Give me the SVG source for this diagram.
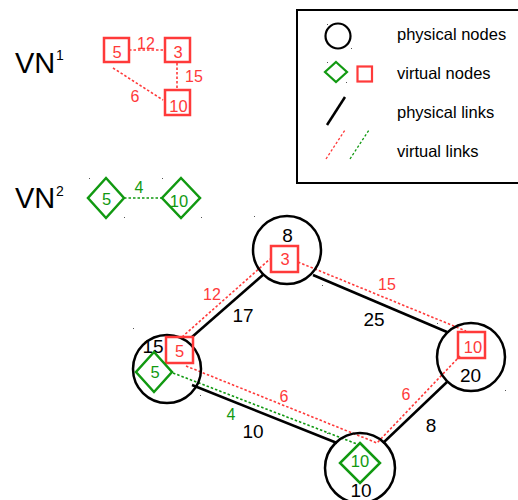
<svg xmlns="http://www.w3.org/2000/svg" width="518" height="500" viewBox="0 0 518 500">
  <style>
    text { font-family: "Liberation Sans", Arial, sans-serif; }
    .pnode { fill: none; stroke: #000; stroke-width: 2.5; }
    .plink { stroke: #000; stroke-width: 2.5; fill: none; }
    .vsq { fill: none; stroke: #ff3a3a; stroke-width: 2.5; }
    .vdia { fill: none; stroke: #119911; stroke-width: 2.5; stroke-linejoin: miter; }
    .vlr { stroke: #ff3a3a; stroke-width: 1.6; stroke-dasharray: 2.5 2; fill: none; }
    .vlg { stroke: #119911; stroke-width: 1.6; stroke-dasharray: 2.5 2; fill: none; }
    .lbl { font-size: 19px; fill: #000; text-anchor: middle; }
    .rl { font-size: 16px; fill: #ff3a3a; text-anchor: middle; }
    .gl { font-size: 16px; fill: #119911; text-anchor: middle; }
    .rn { font-size: 16.5px; fill: #ff3a3a; text-anchor: middle; }
    .gn { font-size: 16.5px; fill: #119911; text-anchor: middle; }
    .leg { font-size: 16.5px; fill: #000; }
    .vn { font-size: 29px; fill: #000; }
    .sup { font-size: 14px; fill: #000; }
    .tick { fill: #555; }
  </style>

  <rect width="518" height="500" fill="#fff"/>

  <!-- virtual network 1 -->
  <g id="vn1">
    <text class="vn" x="15" y="73">VN</text>
    <text class="sup" x="56" y="60">1</text>
    <g class="vn1-links">
      <line class="vlr" x1="129" y1="50" x2="164" y2="50"/>
      <line class="vlr" x1="177" y1="63" x2="177" y2="90"/>
      <line class="vlr" x1="113" y1="68" x2="163" y2="100"/>
      <text class="rl" x="146" y="48.5">12</text>
      <text class="rl" x="194" y="82">15</text>
      <text class="rl" x="135" y="102">6</text>
    </g>
    <g id="vn1-n5"><rect class="vsq" x="104" y="38" width="25" height="24"/><text class="rn" x="117" y="58">5</text></g>
    <g id="vn1-n3"><rect class="vsq" x="165" y="38" width="25" height="24"/><text class="rn" x="178" y="58">3</text></g>
    <g id="vn1-n10"><rect class="vsq" x="165" y="90" width="25" height="25"/><text class="rn" x="178.5" y="112">10</text></g>
  </g>

  <!-- virtual network 2 -->
  <g id="vn2">
    <text class="vn" x="15" y="208">VN</text>
    <text class="sup" x="56" y="196">2</text>
    <line class="vlg" x1="124" y1="198" x2="162" y2="198"/>
    <text class="gl" x="139" y="193">4</text>
    <g id="vn2-n5"><polygon class="vdia" points="106,178 124,198 106,218 88,198"/><text class="gn" x="106.5" y="205">5</text></g>
    <g id="vn2-n10"><polygon class="vdia" points="181,178 200,198 181,218 162,198"/><text class="gn" x="179" y="207">10</text></g>
  </g>

  <!-- legend -->
  <g id="legend">
    <rect x="297" y="10" width="232" height="173" fill="#fff" stroke="#000" stroke-width="2"/>
    <circle cx="338" cy="36" r="12.5" fill="none" stroke="#000" stroke-width="2.2"/>
    <polygon class="vdia" points="336,62 347,72 336,82 325,72" style="stroke-width:2.2"/>
    <rect class="vsq" x="357.5" y="66.5" width="14.5" height="15" style="stroke-width:2.2"/>
    <line class="plink" x1="327" y1="125" x2="345" y2="97"/>
    <line class="vlr" x1="326" y1="159" x2="345" y2="130" style="stroke-width:1.3"/>
    <line class="vlg" x1="350" y1="159" x2="369" y2="130" style="stroke-width:1.3"/>
    <text class="leg" x="397" y="40">physical nodes</text>
    <text class="leg" x="397" y="79">virtual nodes</text>
    <text class="leg" x="397" y="118">physical links</text>
    <text class="leg" x="397" y="157">virtual links</text>
  </g>

  <!-- physical and virtual links -->
  <g id="links">
    <line class="plink" x1="192" y1="337" x2="264" y2="274"/>
    <line class="plink" x1="313" y1="275" x2="447" y2="332"/>
    <line class="plink" x1="192" y1="385" x2="337" y2="443"/>
    <line class="plink" x1="447" y1="382" x2="383" y2="443"/>
    <text class="lbl" x="243" y="322">17</text>
    <text class="lbl" x="374" y="326">25</text>
    <text class="lbl" x="253" y="438">10</text>
    <text class="lbl" x="431" y="432">8</text>

    <line class="vlr" x1="182" y1="337" x2="270" y2="259"/>
    <line class="vlr" x1="298" y1="262" x2="466" y2="331"/>
    <polyline class="vlr" points="186,366 377,443 460,356"/>
    <line class="vlg" x1="173" y1="373" x2="357" y2="444"/>
    <text class="rl" x="212" y="300">12</text>
    <text class="rl" x="387" y="290">15</text>
    <text class="rl" x="284" y="402">6</text>
    <text class="rl" x="406" y="400">6</text>
    <text class="gl" x="231" y="420">4</text>
  </g>

  <!-- substrate node 8 hosting virtual node 3 -->
  <g id="node-8">
    <circle class="pnode" cx="287" cy="250" r="34"/>
    <text class="lbl" x="287.5" y="242">8</text>
    <rect class="vsq" x="271" y="246" width="27" height="26"/>
    <text class="rn" x="285" y="265">3</text>
  </g>

  <!-- substrate node 15 hosting virtual nodes 5 (VN1) and 5 (VN2) -->
  <g id="node-15">
    <circle class="pnode" cx="167" cy="369" r="34"/>
    <text class="lbl" x="153" y="353">15</text>
    <rect class="vsq" x="166" y="337" width="27" height="26"/>
    <text class="rn" x="179.5" y="357">5</text>
    <polygon class="vdia" points="154,352 172,372 154,392 136,372"/>
    <text class="gn" x="155" y="378">5</text>
  </g>

  <!-- substrate node 20 hosting virtual node 10 (VN1) -->
  <g id="node-20">
    <circle class="pnode" cx="471" cy="357" r="34"/>
    <rect class="vsq" x="458" y="332" width="27" height="26"/>
    <text class="rn" x="473" y="353">10</text>
    <text class="lbl" x="470.5" y="382">20</text>
  </g>

  <!-- substrate node 10 hosting virtual node 10 (VN2) -->
  <g id="node-10">
    <circle class="pnode" cx="360" cy="468" r="35"/>
    <polygon class="vdia" points="360,443 380,463 360,483 340,463"/>
    <text class="gn" x="360" y="467">10</text>
    <text class="lbl" x="361" y="497">10</text>
  </g>

  <!-- bounding-box corner marks -->
  <g id="marks" class="tick">
    <rect x="89" y="178" width="1" height="1"/>
    <rect x="124" y="217" width="1" height="1"/>
    <rect x="162" y="178" width="1" height="1"/>
    <rect x="201" y="217" width="1" height="1"/>
    <rect x="327" y="24" width="1" height="1"/>
    <rect x="351" y="48" width="1" height="1"/>
    <rect x="327" y="62" width="1" height="1"/>
    <rect x="346" y="82" width="1" height="1"/>
    <rect x="254" y="216" width="1" height="1"/>
    <rect x="322" y="285" width="1" height="1"/>
    <rect x="133" y="328" width="1" height="1"/>
    <rect x="200" y="395" width="1" height="1"/>
    <rect x="437" y="323" width="1" height="1"/>
    <rect x="505" y="390" width="1" height="1"/>
    <rect x="327" y="433" width="1" height="1"/>
  </g>
</svg>
